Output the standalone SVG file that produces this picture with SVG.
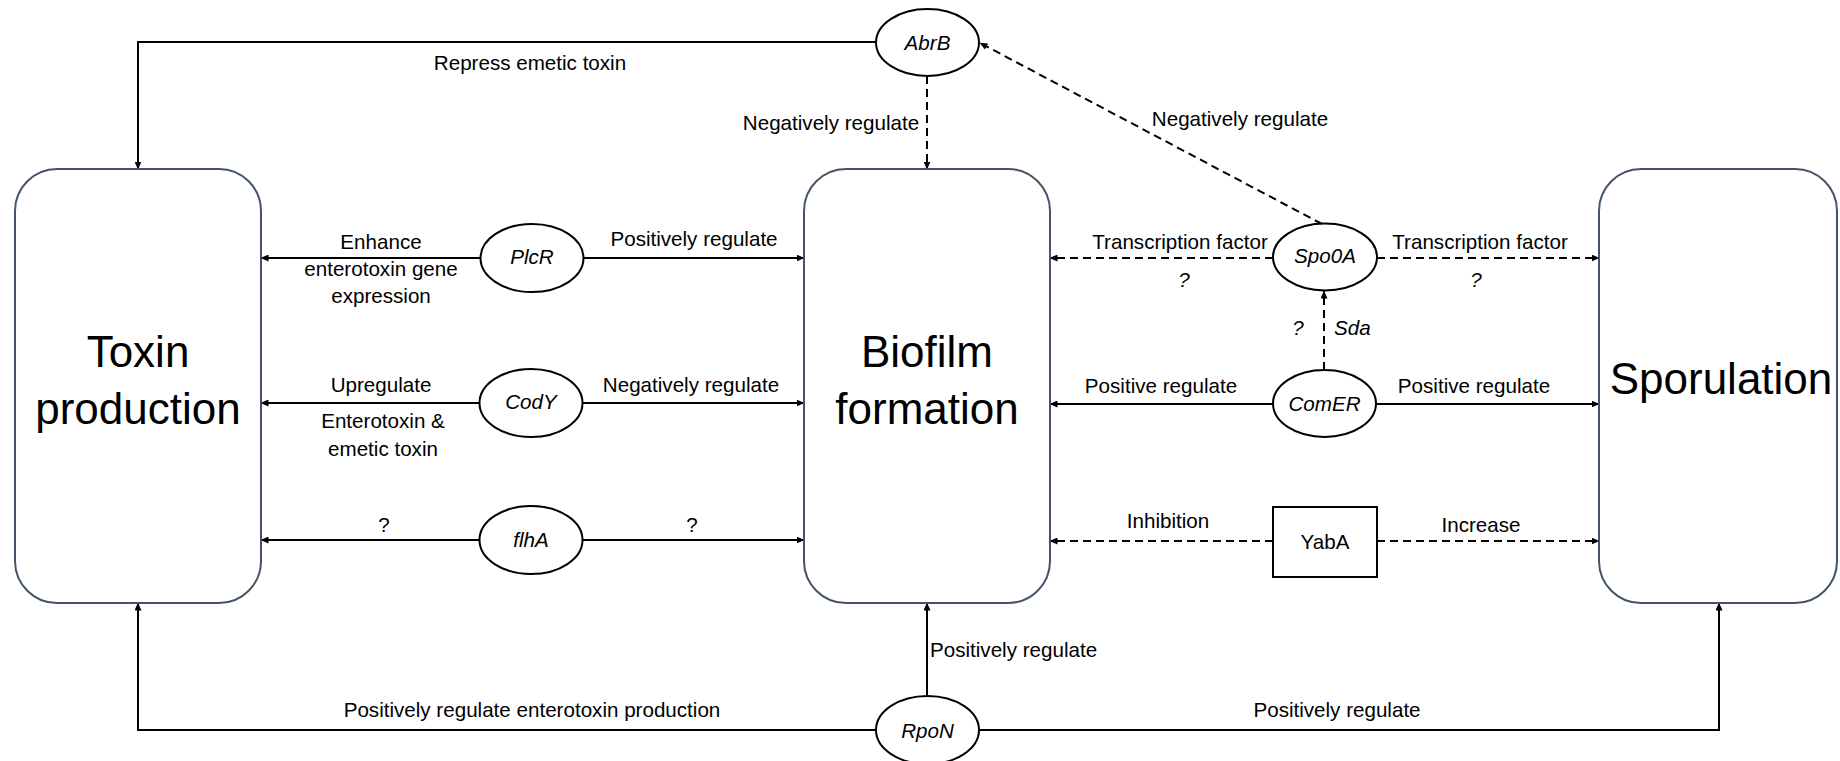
<svg xmlns="http://www.w3.org/2000/svg" width="1840" height="761" viewBox="0 0 1840 761">
<style>
  .box { fill: #ffffff; stroke: #44546A; stroke-width: 2; }
  .node { fill: #ffffff; stroke: #000000; stroke-width: 2; }
  .big { font-family: "Liberation Sans", Arial, sans-serif; font-size: 44px; fill: #000; text-anchor: middle; }
  .lbl { font-family: "Liberation Sans", Arial, sans-serif; font-size: 20.6px; fill: #000; text-anchor: middle; }
  .it { font-style: italic; }
  .start { text-anchor: start; }
  .ln { fill: none; stroke: #000; stroke-width: 2; marker-end: url(#arr); }
  .dash { stroke-dasharray: 8 5; }
</style>
<defs>
  <marker id="arr" markerUnits="userSpaceOnUse" markerWidth="8" markerHeight="7" refX="7.5" refY="3.5" orient="auto">
    <path d="M0,0 L8,3.5 L0,7 Z" fill="#000"/>
  </marker>
</defs>
<rect width="1840" height="761" fill="#ffffff"/>

<g id="connectors">
  <path class="ln" d="M876,42 H138 V169"/>
  <path class="ln dash" d="M927,76 V169"/>
  <path class="ln dash" d="M1322,224 L980,43"/>
  <path class="ln" d="M481,258 H261"/>
  <path class="ln" d="M584,258 H804"/>
  <path class="ln" d="M480,403 H261"/>
  <path class="ln" d="M582,403 H804"/>
  <path class="ln" d="M480,540 H261"/>
  <path class="ln" d="M583,540 H804"/>
  <path class="ln dash" d="M1273,258 H1050"/>
  <path class="ln dash" d="M1377,258 H1599"/>
  <path class="ln dash" d="M1324,370 V291"/>
  <path class="ln" d="M1273,404 H1050"/>
  <path class="ln" d="M1376,404 H1599"/>
  <path class="ln dash" d="M1273,541 H1050"/>
  <path class="ln dash" d="M1377,541 H1599"/>
  <path class="ln" d="M927,696 V603"/>
  <path class="ln" d="M876,730 H138 V603"/>
  <path class="ln" d="M979,730 H1719 V603"/>
</g>

<g id="toxin">
  <rect class="box" x="15" y="169" width="246" height="434" rx="42" ry="42"/>
  <text class="big" x="138" y="367">Toxin</text>
  <text class="big" x="138" y="424">production</text>
</g>
<g id="biofilm">
  <rect class="box" x="804" y="169" width="246" height="434" rx="42" ry="42"/>
  <text class="big" x="927" y="367">Biofilm</text>
  <text class="big" x="927" y="424">formation</text>
</g>
<g id="sporulation">
  <rect class="box" x="1599" y="169" width="238" height="434" rx="42" ry="42"/>
  <text class="big" x="1721" y="394">Sporulation</text>
</g>

<g id="abrb">
  <ellipse class="node" cx="927.5" cy="42.5" rx="51.5" ry="33.5"/>
  <text class="lbl it" x="927.5" y="50">AbrB</text>
</g>
<g id="plcr">
  <ellipse class="node" cx="532" cy="258" rx="51.5" ry="34"/>
  <text class="lbl it" x="532" y="264">PlcR</text>
</g>
<g id="cody">
  <ellipse class="node" cx="531" cy="403" rx="51.5" ry="34"/>
  <text class="lbl it" x="531" y="409">CodY</text>
</g>
<g id="flha">
  <ellipse class="node" cx="531" cy="540" rx="51.5" ry="34"/>
  <text class="lbl it" x="531" y="547">flhA</text>
</g>
<g id="spo0a">
  <ellipse class="node" cx="1325" cy="257" rx="52" ry="33.5"/>
  <text class="lbl it" x="1325" y="263">Spo0A</text>
</g>
<g id="comer">
  <ellipse class="node" cx="1324.5" cy="403.5" rx="51.5" ry="33.5"/>
  <text class="lbl it" x="1324.5" y="411">ComER</text>
</g>
<g id="yaba">
  <rect class="node" x="1273" y="507" width="104" height="70"/>
  <text class="lbl" x="1325" y="549">YabA</text>
</g>
<g id="rpon">
  <ellipse class="node" cx="927.5" cy="730" rx="51.5" ry="34"/>
  <text class="lbl it" x="927.5" y="738">RpoN</text>
</g>

<g id="labels">
  <text class="lbl" x="530" y="70">Repress emetic toxin</text>
  <text class="lbl" x="831" y="130">Negatively regulate</text>
  <text class="lbl" x="1240" y="126">Negatively regulate</text>
  <text class="lbl" x="381" y="249">Enhance</text>
  <text class="lbl" x="381" y="276">enterotoxin gene</text>
  <text class="lbl" x="381" y="303">expression</text>
  <text class="lbl" x="694" y="246">Positively regulate</text>
  <text class="lbl" x="381" y="392">Upregulate</text>
  <text class="lbl" x="383" y="428">Enterotoxin &amp;</text>
  <text class="lbl" x="383" y="456">emetic toxin</text>
  <text class="lbl" x="691" y="392">Negatively regulate</text>
  <text class="lbl" x="384" y="532">?</text>
  <text class="lbl" x="692" y="532">?</text>
  <text class="lbl" x="1180" y="249">Transcription factor</text>
  <text class="lbl it" x="1184" y="287">?</text>
  <text class="lbl" x="1480" y="249">Transcription factor</text>
  <text class="lbl it" x="1476" y="287">?</text>
  <text class="lbl it" x="1298" y="335">?</text>
  <text class="lbl it start" x="1334" y="335">Sda</text>
  <text class="lbl" x="1161" y="393">Positive regulate</text>
  <text class="lbl" x="1474" y="393">Positive regulate</text>
  <text class="lbl" x="1168" y="528">Inhibition</text>
  <text class="lbl" x="1481" y="532">Increase</text>
  <text class="lbl start" x="930" y="657">Positively regulate</text>
  <text class="lbl" x="532" y="717">Positively regulate enterotoxin production</text>
  <text class="lbl" x="1337" y="717">Positively regulate</text>
</g>
</svg>
